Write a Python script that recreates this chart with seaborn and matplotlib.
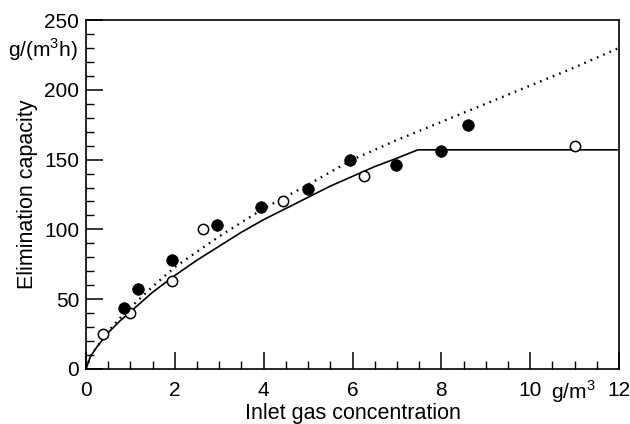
import matplotlib
matplotlib.use("Agg")
import matplotlib.pyplot as plt
import matplotlib.transforms as mtransforms
from matplotlib.ticker import MultipleLocator
import pandas as pd
import seaborn as sns

# Measured elimination capacity, two series of runs
filled_x = [0.86, 1.16, 1.94, 2.94, 3.94, 5.0, 5.95, 6.97, 7.99, 8.59]
filled_y = [44, 57, 78, 103, 116, 129, 150, 146, 156, 175]
open_x = [0.38, 0.98, 1.94, 2.63, 4.44, 6.25, 11.0]
open_y = [25, 40, 63, 100, 120, 138, 160]

# Model curve with saturation plateau (solid)
model_x = [0, 0.1, 0.25, 0.5, 0.75, 1, 1.5, 2, 2.5, 3, 3.5, 4, 4.5, 5,
           5.5, 6, 6.5, 7, 7.47, 12]
model_y = [0, 9, 16, 26, 34, 41, 55, 67, 78, 88, 98, 107, 115, 123,
           131, 138, 145, 151, 157, 157]

# Model curve without saturation limit (dotted)
unlim_x = [0, 0.1, 0.25, 0.5, 0.75, 1, 1.5, 2, 2.5, 3, 4, 5, 6, 7, 8, 9,
           10, 11, 12]
unlim_y = [0, 9, 16, 27, 36, 44, 59, 73, 84, 95, 115, 132, 150, 164, 177,
           190, 203, 216, 230]

x_ticks = [0, 2, 4, 6, 8, 10, 12]
x_tick_labels = ["0", "2", "4", "6", "8", "10", "12"]
y_ticks = [0, 50, 100, 150, 200, 250]

sns.set_style("ticks")
plt.rcParams["font.family"] = ["Liberation Sans", "DejaVu Sans"]
plt.rcParams["mathtext.fontset"] = "custom"
plt.rcParams["mathtext.rm"] = "Liberation Sans"
plt.rcParams.update({
    "text.color": "black", "axes.labelcolor": "black",
    "xtick.labelcolor": "black", "ytick.labelcolor": "black",
})

fig = plt.figure(figsize=(6.3, 4.24), dpi=100)
ax = fig.add_axes([86 / 630, 55 / 424, 533 / 630, 349 / 424])

model = pd.DataFrame({"x": model_x, "y": model_y})
unlim = pd.DataFrame({"x": unlim_x, "y": unlim_y})
filled = pd.DataFrame({"x": filled_x, "y": filled_y})
opened = pd.DataFrame({"x": open_x, "y": open_y})

sns.lineplot(data=model, x="x", y="y", ax=ax, color="black", lw=1.2,
             sort=False, estimator=None)
sns.lineplot(data=unlim, x="x", y="y", ax=ax, color="black", lw=1.7,
             linestyle=(0, (0.7, 2.2)), sort=False, estimator=None)
sns.scatterplot(data=opened, x="x", y="y", ax=ax, s=55, marker="o",
                facecolor="white", edgecolor="black", linewidth=1.1, zorder=5)
sns.scatterplot(data=filled, x="x", y="y", ax=ax, s=70, marker="o",
                color="black", edgecolor="black", linewidth=0.5, zorder=6)

ax.set_xlim(0, 12)
ax.set_ylim(0, 250)
ax.set_xticks(x_ticks)
ax.set_xticklabels(x_tick_labels)
ax.set_yticks(y_ticks)
ax.xaxis.set_minor_locator(MultipleLocator(0.5))
ax.yaxis.set_minor_locator(MultipleLocator(10))
ax.tick_params(which="both", direction="in", bottom=True, left=True,
               top=False, right=False, color="black")
ax.tick_params(which="major", length=12, width=1.1)
ax.tick_params(which="minor", length=6, width=1.0)
ax.tick_params(axis="x", which="major", labelsize=15, pad=9)
ax.tick_params(axis="y", which="major", labelsize=15, pad=5)

for side in ["left", "bottom", "top", "right"]:
    ax.spines[side].set_visible(True)
    ax.spines[side].set_linewidth(1.2)
    ax.spines[side].set_color("black")

ax.set_xlabel("Inlet gas concentration", fontsize=15.5, labelpad=2)
ax.set_ylabel("Elimination capacity", fontsize=15.5, labelpad=4)

# unit labels next to the axes
xt = mtransforms.blended_transform_factory(ax.transData, ax.transAxes)
ax.text(10.47, -0.086, "g/m$^3$", transform=xt, ha="left", va="baseline",
        fontsize=15)
yt = mtransforms.blended_transform_factory(ax.transAxes, ax.transData)
ax.text(-0.015, 229, "g/(m$^3$h)", transform=yt, ha="right", va="center",
        fontsize=15)

fig.savefig("out.png", dpi=100)
